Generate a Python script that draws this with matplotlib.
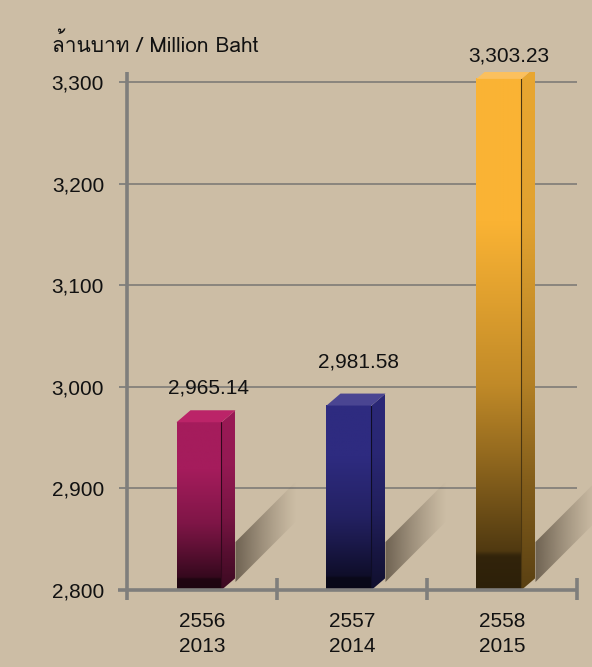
import numpy as np
import matplotlib
matplotlib.use("Agg")
import matplotlib.pyplot as plt
from matplotlib import font_manager
from matplotlib.ft2font import FT2Font
from matplotlib.patches import Polygon
from matplotlib.colors import to_rgb
import matplotlib.transforms as mtransforms

# data
years_th = ["2556", "2557", "2558"]
years_en = ["2013", "2014", "2015"]
revenue = [2965.14, 2981.58, 3303.23]
value_labels = ["2,965.14", "2,981.58", "3,303.23"]
y_ticks = [2800, 2900, 3000, 3100, 3200, 3300]
y_tick_labels = ["2,800", "2,900", "3,000", "3,100", "3,200", "3,300"]

bar_colors = ["#A51C5C", "#2E2B80", "#FAB334"]
top_colors = ["#BB2468", "#4A4592", "#FBC05E"]
label_lift = [17, 26, 5]   # px above the back edge of each bar top

BG = "#CCBDA5"
GRID = "#7E7B77"
AXIS = "#7F7E7C"


def thai_family():
    for f in font_manager.fontManager.ttflist:
        try:
            if ord("ล") in FT2Font(f.fname).get_charmap():
                return f.name
        except Exception:
            pass
    return None


thai = thai_family()
plt.rcParams["font.family"] = ["Liberation Sans", "DejaVu Sans"]
title_family = [thai, "Liberation Sans", "DejaVu Sans"] if thai else ["Liberation Sans", "DejaVu Sans"]

fig = plt.figure(figsize=(5.92, 6.67), dpi=100)
fig.patch.set_facecolor(BG)

# axes: left 127px, right 577px, bottom 590px, top 72px
ax = fig.add_axes([127 / 592, 77 / 667, 450 / 592, 518 / 667])
ax.set_facecolor(BG)
YMIN, YMAX = 2800, 3310
ax.set_xlim(0, 3)
ax.set_ylim(YMIN, YMAX)
PXY = 518 / (YMAX - YMIN)   # pixels per value unit
PXX = 150                    # pixels per category

for s in ax.spines.values():
    s.set_visible(False)

ax.set_yticks(y_ticks)
ax.set_yticklabels(y_tick_labels, fontsize=15, color="#111111")
ax.tick_params(axis="y", length=6, width=1.3, color=AXIS, pad=10.5)
ax.set_xticks([])
ax.yaxis.grid(True, color=GRID, lw=1.2)
ax.set_axisbelow(True)

# axis lines drawn by hand so they overhang like the ticks
ax.plot([0, 0], [-10 / 518, 1], transform=ax.transAxes, color=AXIS, lw=2.6,
        clip_on=False, zorder=6, solid_capstyle="butt")
ax.plot([-9 / 450, 1], [0, 0], transform=ax.transAxes, color=AXIS, lw=2.6,
        clip_on=False, zorder=6, solid_capstyle="butt")
for xt in range(1, 4):
    ax.plot([xt / 3, xt / 3], [-10 / 518, 12 / 518], transform=ax.transAxes,
            color=AXIS, lw=2.6, clip_on=False, zorder=6, solid_capstyle="butt")

# x labels
xtrans = mtransforms.blended_transform_factory(ax.transData, fig.transFigure)
for i in range(3):
    ax.text(i + 0.5, 1 - 627 / 667, years_th[i], transform=xtrans, ha="center",
            va="baseline", fontsize=15, color="#111111")
    ax.text(i + 0.5, 1 - 652 / 667, years_en[i], transform=xtrans, ha="center",
            va="baseline", fontsize=15, color="#111111")

fig.text(52 / 592, 1 - 52 / 667, "ล้านบาท / Million Baht", fontsize=15,
         family=title_family, color="#111111", va="baseline", ha="left")

# 3d bar geometry
W = 0.30
DX = 14 / PXX
DY = 12 / PXY
front_t = [0.0, 0.28, 0.45, 0.6, 0.73, 0.87, 0.925, 0.935, 1.0]
front_f = [1.0, 1.0, 0.88, 0.77, 0.60, 0.40, 0.32, 0.2, 0.18]
side_t = [0.0, 0.3, 0.6, 0.8, 1.0]
side_f = [0.93, 0.9, 0.72, 0.52, 0.36]


def grad_img(color, ts, fs, n=256):
    t = np.linspace(0, 1, n)
    f = np.interp(t, ts, fs)
    rgb = np.array(to_rgb(color))
    return (f[:, None] * rgb[None, :])[:, None, :]


for i, val in enumerate(revenue):
    x0 = i + 0.33
    x1 = x0 + W
    c = bar_colors[i]

    # shadow band running up-right from the base of the side face
    cx, cy = x1 + DX, YMIN + 12 / PXY
    L, H = 62, 36
    sh = Polygon([(cx, cy - 4 / PXY), (cx + L / PXX, cy + (L - 4) / PXY),
                  (cx + L / PXX, cy + (L + H) / PXY), (cx, cy + H / PXY)],
                 closed=True, facecolor="none", edgecolor="none",
                 clip_on=False)
    ax.add_patch(sh)
    gx = np.linspace(0, 1, 128)
    a = 0.68 * (1 - gx) ** 1.2
    simg = np.zeros((2, 128, 4))
    simg[..., :3] = np.array([66, 55, 42]) / 255
    simg[..., 3] = a[None, :]
    im = ax.imshow(simg, extent=[cx, cx + L / PXX, cy - 6 / PXY, cy + (L + H) / PXY],
                   aspect="auto", interpolation="bilinear", zorder=2)
    im.set_clip_box(fig.bbox)
    im.set_clip_path(sh)

    # front face
    im = ax.imshow(grad_img(c, front_t, front_f), extent=[x0, x1, YMIN, val],
                   aspect="auto", interpolation="bilinear", zorder=3)

    # side face
    side = Polygon([(x1, YMIN), (x1 + DX, YMIN + DY), (x1 + DX, val + DY), (x1, val)],
                   closed=True, facecolor="none", edgecolor="none")
    ax.add_patch(side)
    im = ax.imshow(grad_img(c, side_t, side_f), extent=[x1, x1 + DX, YMIN, val + DY],
                   aspect="auto", interpolation="bilinear", zorder=3)
    im.set_clip_path(side)
    ax.plot([x1, x1], [YMIN, val], color=np.array(to_rgb(c)) * 0.3, lw=0.8, zorder=4)

    # top face
    ax.add_patch(Polygon([(x0, val), (x0 + DX, val + DY), (x1 + DX, val + DY), (x1, val)],
                         closed=True, facecolor=top_colors[i], edgecolor="none", zorder=4))

    ax.annotate(value_labels[i], xy=((x0 + x1) / 2 + 10 / PXX, val + DY),
                xytext=(0, label_lift[i]), textcoords="offset pixels",
                ha="center", va="baseline", fontsize=15, color="#111111",
                annotation_clip=False, zorder=7)

ax.set_xlim(0, 3)
ax.set_ylim(YMIN, YMAX)

fig.savefig("out.png", dpi=100, facecolor=BG)
